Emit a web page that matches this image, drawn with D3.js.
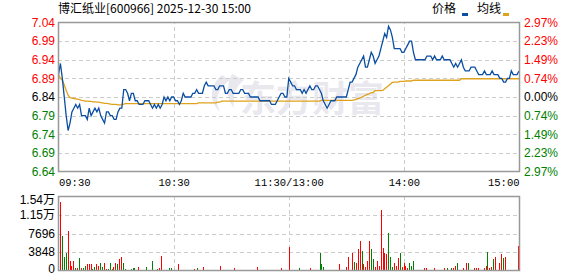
<!DOCTYPE html>
<html>
<head>
<meta charset="utf-8">
<script src="https://cdn.jsdelivr.net/npm/d3@7"></script>
<style>
  body { margin: 0; background: #fff; }
  svg { display: block; font-family: "Liberation Sans", Arial, sans-serif; }
</style>
</head>
<body>
<svg id="chart" width="578" height="276"></svg>
<script>
'use strict';

const TITLE = '博汇纸业[600966] 2025-12-30 15:00';
const PREV_CLOSE = 6.84;

const priceTicks = [7.04, 6.99, 6.94, 6.89, 6.84, 6.79, 6.74, 6.69, 6.64];
const pctLabels = ['2.97%', '2.23%', '1.49%', '0.74%', '0.00%', '0.74%', '1.49%', '2.23%', '2.97%'];
const timeTicks = [0, 60, 120, 180, 240];
const timeLabels = ['09:30', '10:30', '11:30/13:00', '14:00', '15:00'];
const volTicks = [0, 3848, 7696, 11544, 15392];
const volLabels = ['0', '3848', '7696', '1.15万', '1.54万'];

// one value per minute, 09:30-11:30 then 13:01-15:00
const prices = [
  6.90, 6.93, 6.89, 6.84, 6.79, 6.75, 6.77, 6.80, 6.81, 6.82,
  6.81, 6.82, 6.79, 6.79, 6.79, 6.78, 6.81, 6.79, 6.80, 6.81,
  6.80, 6.81, 6.79, 6.78, 6.77, 6.80, 6.80, 6.79, 6.79, 6.78,
  6.78, 6.80, 6.81, 6.81, 6.86, 6.86, 6.85, 6.83, 6.85, 6.85,
  6.83, 6.83, 6.82, 6.82, 6.82, 6.83, 6.83, 6.83, 6.82, 6.81,
  6.82, 6.81, 6.82, 6.81, 6.82, 6.84, 6.83, 6.84, 6.83, 6.84,
  6.84, 6.83, 6.83, 6.82, 6.83, 6.85, 6.84, 6.84, 6.84, 6.84,
  6.85, 6.85, 6.86, 6.85, 6.85, 6.85, 6.87, 6.88, 6.87, 6.87,
  6.87, 6.87, 6.86, 6.86, 6.87, 6.87, 6.87, 6.85, 6.85, 6.86,
  6.86, 6.85, 6.85, 6.85, 6.85, 6.86, 6.86, 6.85, 6.85, 6.85,
  6.84, 6.84, 6.84, 6.84, 6.84, 6.83, 6.83, 6.83, 6.83, 6.83,
  6.83, 6.82, 6.82, 6.82, 6.83, 6.84, 6.85, 6.85, 6.84, 6.84,
  6.89, 6.88, 6.87, 6.87, 6.86, 6.86, 6.86, 6.85, 6.86, 6.85,
  6.86, 6.87, 6.86, 6.86, 6.87, 6.87, 6.86, 6.85, 6.83, 6.82,
  6.81, 6.82, 6.83, 6.83, 6.83, 6.84, 6.84, 6.84, 6.84, 6.84,
  6.84, 6.86, 6.88, 6.88, 6.89, 6.90, 6.92, 6.93, 6.94, 6.95,
  6.92, 6.92, 6.94, 6.96, 6.95, 6.93, 6.94, 6.95, 6.97, 6.99,
  7.01, 7.00, 7.03, 7.02, 7.00, 6.97, 6.97, 6.97, 6.97, 6.96,
  6.96, 6.97, 6.98, 6.99, 6.99, 6.96, 6.94, 6.94, 6.94, 6.94,
  6.94, 6.94, 6.95, 6.95, 6.95, 6.94, 6.95, 6.94, 6.94, 6.94,
  6.95, 6.94, 6.94, 6.94, 6.94, 6.93, 6.92, 6.93, 6.92, 6.93,
  6.94, 6.92, 6.91, 6.91, 6.91, 6.92, 6.92, 6.92, 6.91, 6.90,
  6.90, 6.90, 6.91, 6.90, 6.90, 6.90, 6.91, 6.90, 6.90, 6.90,
  6.89, 6.89, 6.88, 6.88, 6.89, 6.89, 6.91, 6.90, 6.90, 6.90, 6.91
];

const avgPrices = [
  6.900, 6.890, 6.885, 6.872, 6.858, 6.845, 6.838, 6.837, 6.836, 6.835,
  6.834, 6.833, 6.831, 6.830, 6.829, 6.829, 6.828, 6.828, 6.827, 6.827,
  6.826, 6.826, 6.825, 6.824, 6.823, 6.823, 6.822, 6.821, 6.820, 6.820,
  6.820, 6.819, 6.819, 6.819, 6.821, 6.822, 6.822, 6.822, 6.822, 6.822,
  6.822, 6.822, 6.822, 6.822, 6.822, 6.822, 6.822, 6.822, 6.822, 6.822,
  6.822, 6.822, 6.822, 6.822, 6.822, 6.822, 6.822, 6.822, 6.822, 6.822,
  6.822, 6.822, 6.822, 6.822, 6.822, 6.822, 6.822, 6.822, 6.822, 6.822,
  6.822, 6.822, 6.822, 6.824, 6.824, 6.824, 6.824, 6.824, 6.824, 6.824,
  6.824, 6.824, 6.824, 6.826, 6.826, 6.829, 6.829, 6.829, 6.829, 6.829,
  6.829, 6.829, 6.829, 6.829, 6.829, 6.829, 6.829, 6.829, 6.829, 6.829,
  6.829, 6.829, 6.829, 6.829, 6.829, 6.829, 6.829, 6.829, 6.829, 6.829,
  6.829, 6.829, 6.829, 6.829, 6.829, 6.829, 6.829, 6.829, 6.829, 6.829,
  6.829, 6.829, 6.829, 6.829, 6.829, 6.829, 6.829, 6.829, 6.829, 6.829,
  6.829, 6.829, 6.829, 6.829, 6.829, 6.829, 6.829, 6.831, 6.831, 6.831,
  6.831, 6.831, 6.831, 6.831, 6.831, 6.831, 6.831, 6.831, 6.831, 6.831,
  6.831, 6.831, 6.831, 6.831, 6.832, 6.833, 6.836, 6.837, 6.840, 6.842,
  6.845, 6.847, 6.849, 6.852, 6.852, 6.857, 6.857, 6.857, 6.857, 6.858,
  6.862, 6.866, 6.870, 6.875, 6.879, 6.880, 6.880, 6.880, 6.882, 6.882,
  6.882, 6.883, 6.883, 6.883, 6.883, 6.885, 6.885, 6.885, 6.885, 6.885,
  6.885, 6.885, 6.885, 6.885, 6.885, 6.885, 6.885, 6.885, 6.885, 6.885,
  6.885, 6.885, 6.885, 6.885, 6.885, 6.885, 6.885, 6.885, 6.885, 6.885,
  6.889, 6.889, 6.889, 6.889, 6.889, 6.889, 6.889, 6.889, 6.889, 6.889,
  6.889, 6.889, 6.889, 6.889, 6.889, 6.889, 6.889, 6.889, 6.889, 6.889,
  6.889, 6.889, 6.889, 6.889, 6.889, 6.889, 6.889, 6.889, 6.889, 6.889, 6.889
];

const volumes = [
  14200, 7140, 2770, 3600, 8300, 1940, 1040, 1940, 550, 420,
  2500, 420, 420, 1040, 1250, 1250, 1250, 280, 700, 1250,
  970, 1520, 830, 1660, 350, 350, 1520, 280, 830, 1520,
  1250, 2350, 2770, 1520, 280, 200, 200, 280, 620, 420,
  200, 830, 200, 200, 200, 830, 200, 200, 2080, 200,
  200, 280, 420, 3120, 200, 200, 200, 490, 550, 200,
  200, 200, 1250, 200, 200, 200, 200, 200, 200, 200,
  280, 200, 420, 200, 200, 830, 200, 200, 200, 200,
  200, 200, 200, 200, 970, 200, 200, 200, 200, 200,
  200, 550, 200, 200, 200, 200, 200, 200, 200, 200,
  200, 200, 200, 830, 200, 200, 200, 200, 200, 200,
  200, 200, 200, 200, 200, 200, 550, 200, 200, 200,
  4850, 200, 200, 200, 200, 620, 200, 200, 200, 200,
  200, 420, 200, 200, 200, 200, 3600, 1250, 700, 200,
  200, 200, 200, 200, 200, 200, 1250, 200, 200, 200,
  700, 2770, 200, 3740, 1870, 1660, 4570, 6240, 4160, 1250,
  700, 2080, 6240, 4370, 2290, 700, 2080, 1040, 12680, 4780,
  3740, 3470, 7760, 2910, 830, 1520, 1040, 2500, 3600, 830,
  1520, 1040, 620, 1520, 970, 2080, 200, 200, 200, 200,
  200, 620, 620, 200, 200, 200, 620, 200, 200, 200,
  200, 550, 200, 620, 200, 550, 420, 1040, 1460, 200,
  200, 420, 200, 1460, 1460, 200, 200, 420, 550, 420,
  200, 200, 420, 1040, 3950, 420, 830, 2290, 2910, 200,
  1460, 3530, 2700, 2910, 200, 200, 200, 200, 200, 200, 5200
];

// R = up minute, G = down minute
const volDir = (
  'RGGGRRRRGR' + 'GRGGRRRGGR' + 'RGGRRGGGRR' + 'GRRGGGGGGG' +
  'GRRRRGRRGG' + 'RGRRGGGGGG' + 'GGRRRRRRRR' + 'RGGRRRGGGG' +
  'RRGRRRGGRR' + 'RRGRGGRRGR' + 'RGGRRGRRGR' + 'RRRGRRRGRG' +
  'RRRRGGGGRG' + 'GRRRRRGGGR' + 'GRRRGRRRRR' + 'RRGRGRRRGR' +
  'RRRGGRRRRR' + 'RRGGGRRRGR' + 'RRRGGGRRRR' + 'GRRRRGRRGR' +
  'RRRGRGRRGR' + 'RRRRGGRRRR' + 'GRRRGRRGRG' + 'RRGRGRRRRRR'
).split('');

const RED = '#ff0000';
const GREEN = '#008000';
const BLUE = '#0b4ea2';
const GOLD = '#dfa21c';
const GRID = '#cccccc';
const BORDER = '#999999';

const LEFT = 58;
const RIGHT = 519;
const P_TOP = 22;
const P_BOTTOM = 171;
const V_TOP = 196;
const V_BOTTOM = 270;

const svg = d3.select('#chart');

const x = d3.scaleLinear().domain([0, 240]).range([LEFT + 0.5, RIGHT]);
const xBar = d3.scaleLinear().domain([0, 240]).range([60, 518]);
const y = d3.scaleLinear().domain([6.64, 7.04]).range([P_BOTTOM + 0.5, P_TOP + 0.5]);
const yVol = d3.scaleLinear().domain([0, 15392]).range([V_BOTTOM + 0.5, V_TOP + 0.5]);

function labelColor(v) {
    if (Math.abs(v - PREV_CLOSE) < 1e-6) return '#000';
    return v > PREV_CLOSE ? RED : GREEN;
}

function styleGrid(g) {
    g.select('.domain').remove();
    g.selectAll('.tick line')
        .attr('stroke', GRID)
        .attr('stroke-dasharray', '4,3')
        .attr('shape-rendering', 'crispEdges');
}

// title + legend
svg.append('text')
    .attr('x', LEFT)
    .attr('y', 13)
    .attr('font-family', '"Noto Sans CJK SC", sans-serif')
    .attr('font-size', 12)
    .attr('fill', '#000')
    .text(TITLE);

const legend = [
    {label: '价格', color: BLUE, tx: 432, mx: 462},
    {label: '均线', color: GOLD, tx: 477, mx: 503}
];
legend.forEach(({label, color, tx, mx}) => {
    svg.append('text')
        .attr('x', tx)
        .attr('y', 13)
        .attr('font-family', '"Noto Sans CJK SC", sans-serif')
        .attr('font-size', 12)
        .text(label);
    svg.append('rect')
        .attr('x', mx).attr('y', 13)
        .attr('width', 6).attr('height', 3)
        .attr('fill', color);
});

// watermark
svg.append('text')
    .attr('x', 240)
    .attr('y', 112)
    .attr('font-family', '"Noto Sans CJK SC", sans-serif')
    .attr('font-weight', 'bold')
    .attr('font-size', 36)
    .attr('fill', '#e8e8ee')
    .text('东方财富');
svg.append('path')
    .attr('d', 'M222,75 C210,85 208,100 220,112 C214,100 218,88 230,80 Z M232,74 C226,86 226,98 234,108 C232,96 236,86 244,80 Z')
    .attr('fill', '#e8e8ee');

// grids
svg.append('g')
    .attr('transform', `translate(${LEFT},0)`)
    .call(d3.axisLeft(y).tickValues(priceTicks.slice(1, -1)).tickSize(-(RIGHT - LEFT)).tickFormat(''))
    .call(styleGrid);

svg.append('g')
    .attr('transform', `translate(0,${P_BOTTOM})`)
    .call(d3.axisBottom(x).tickValues(timeTicks.slice(1, -1)).tickSize(-(P_BOTTOM - P_TOP)).tickFormat(''))
    .call(styleGrid);

svg.append('g')
    .attr('transform', `translate(${LEFT},0)`)
    .call(d3.axisLeft(yVol).tickValues(volTicks.slice(1, -1)).tickSize(-(RIGHT - LEFT)).tickFormat(''))
    .call(styleGrid);

svg.append('g')
    .attr('transform', `translate(0,${V_BOTTOM})`)
    .call(d3.axisBottom(x).tickValues(timeTicks.slice(1, -1)).tickSize(-(V_BOTTOM - V_TOP)).tickFormat(''))
    .call(styleGrid);

// price axis labels
const yLeft = svg.append('g')
    .attr('transform', `translate(${LEFT - 3},0)`)
    .call(d3.axisLeft(y).tickValues(priceTicks).tickSize(0).tickPadding(0).tickFormat(d3.format('.2f')));
yLeft.select('.domain').remove();
yLeft.selectAll('.tick text')
    .attr('font-size', 12)
    .attr('font-family', '"Liberation Sans", Arial, sans-serif')
    .attr('fill', (d) => labelColor(d));

const yRight = svg.append('g')
    .attr('transform', `translate(${RIGHT + 5},0)`)
    .call(d3.axisRight(y).tickValues(priceTicks).tickSize(0).tickPadding(0)
        .tickFormat((d, i) => pctLabels[i]));
yRight.select('.domain').remove();
yRight.selectAll('.tick text')
    .attr('font-size', 12)
    .attr('font-family', '"Liberation Sans", Arial, sans-serif')
    .attr('fill', (d) => labelColor(d));

// time axis
const xAxis = svg.append('g')
    .attr('transform', `translate(0,${P_BOTTOM + 8})`)
    .call(d3.axisBottom(x).tickValues(timeTicks).tickSize(0).tickPadding(0)
        .tickFormat((d, i) => timeLabels[i]));
xAxis.select('.domain').remove();
xAxis.selectAll('.tick text')
    .attr('font-size', 10.5)
    .attr('font-family', '"Liberation Mono", monospace')
    .attr('fill', '#000')
    .attr('text-anchor', (d, i) => i === 0 ? 'start' : (i === timeTicks.length - 1 ? 'end' : 'middle'));

// volume labels
const yVolAxis = svg.append('g')
    .attr('transform', `translate(${LEFT - 3},0)`)
    .call(d3.axisLeft(yVol).tickValues(volTicks).tickSize(0).tickPadding(0)
        .tickFormat((d, i) => volLabels[i]));
yVolAxis.select('.domain').remove();
yVolAxis.selectAll('.tick text')
    .attr('font-size', 12)
    .attr('font-family', '"Liberation Sans", "Noto Sans CJK SC", sans-serif')
    .attr('fill', '#000')
    .attr('dy', (d) => d === 15392 ? '0.55em' : (d === 0 ? '0.15em' : '0.32em'));

// volume bars
svg.append('g')
    .selectAll('rect')
    .data(volumes)
    .enter()
    .append('rect')
    .attr('x', (d, i) => Math.round(xBar(i)))
    .attr('y', (d) => yVol(d))
    .attr('width', 1)
    .attr('height', (d) => Math.max(V_BOTTOM + 0.5 - yVol(d), 0))
    .attr('fill', (d, i) => volDir[i] === 'R' ? RED : GREEN)
    .attr('shape-rendering', 'crispEdges');

// lines
const line = d3.line()
    .x((d, i) => x(i))
    .y((d) => y(d));

svg.append('path')
    .datum(avgPrices)
    .attr('d', line)
    .attr('fill', 'none')
    .attr('stroke', GOLD)
    .attr('stroke-width', 1.3);

svg.append('path')
    .datum(prices)
    .attr('d', line)
    .attr('fill', 'none')
    .attr('stroke', BLUE)
    .attr('stroke-width', 1.3);

// frames
[[P_TOP, P_BOTTOM], [V_TOP, V_BOTTOM]].forEach(([t, b]) => {
    svg.append('rect')
        .attr('x', LEFT + 0.5)
        .attr('y', t + 0.5)
        .attr('width', RIGHT - LEFT)
        .attr('height', b - t)
        .attr('fill', 'none')
        .attr('stroke', BORDER)
        .attr('stroke-width', 1.5);
});
</script>
</body>
</html>
